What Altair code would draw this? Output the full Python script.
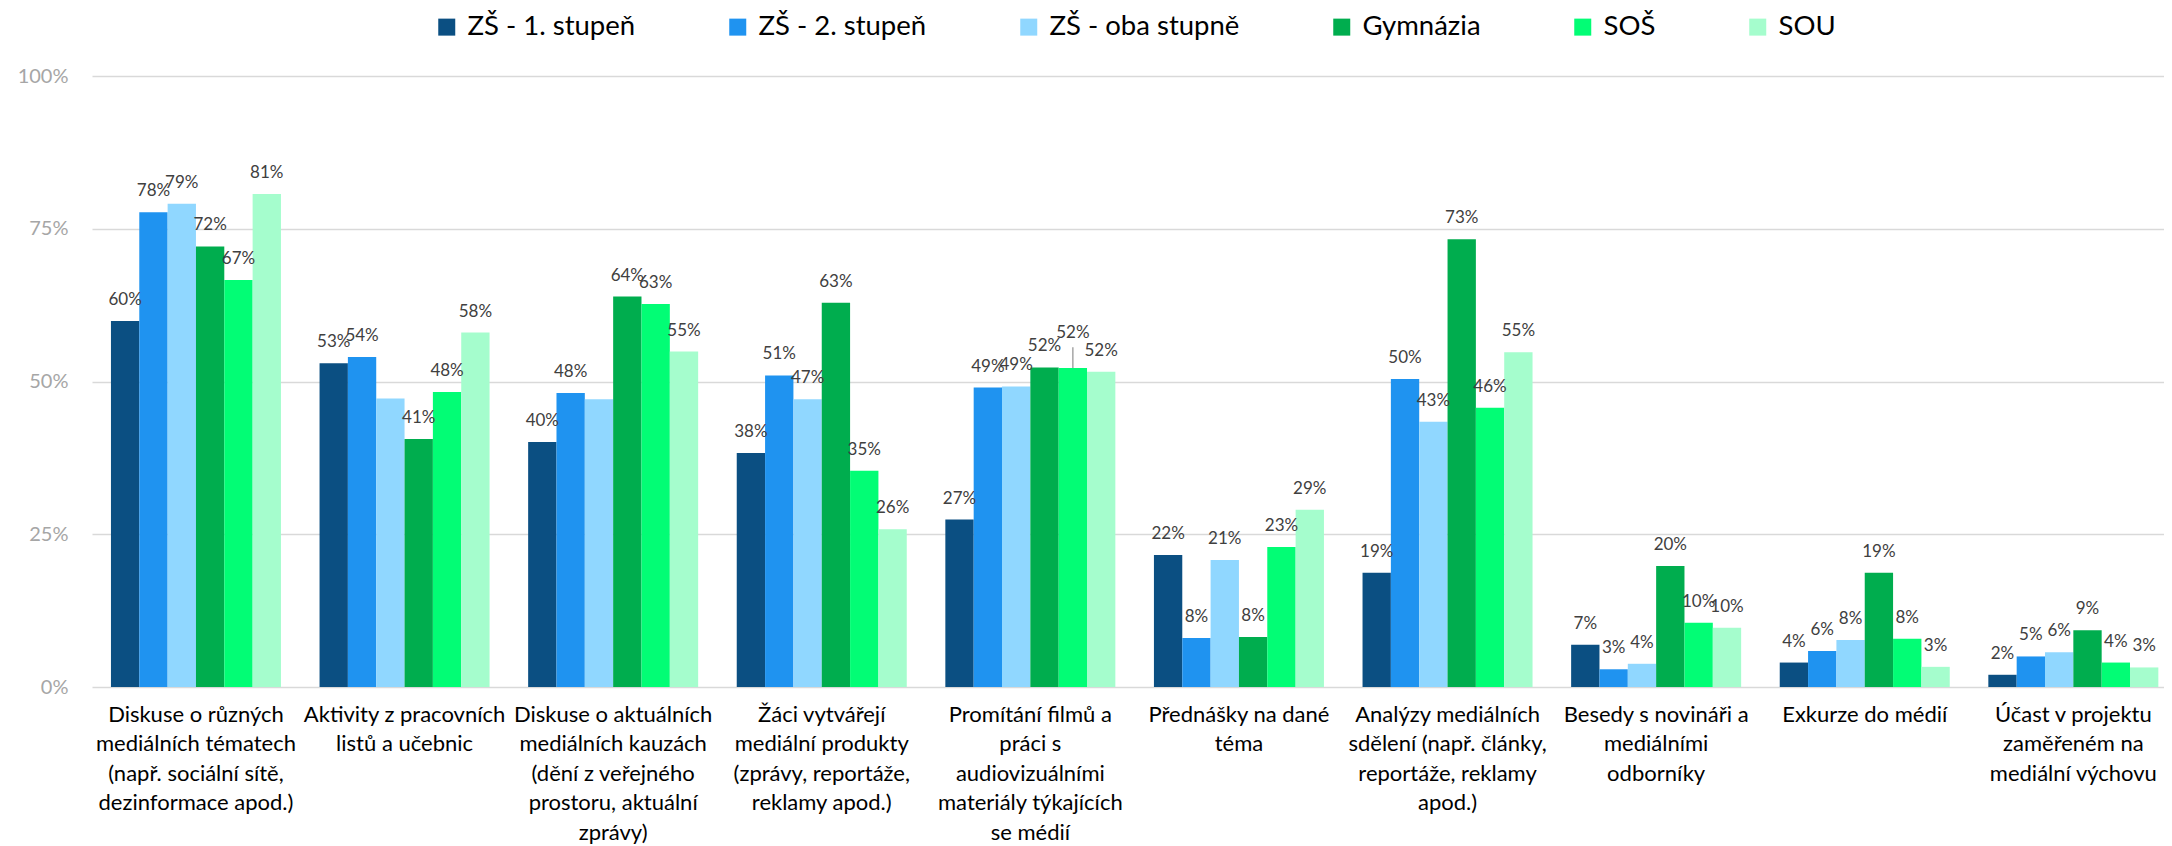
import altair as alt
import pandas as pd

categories = [
    "Diskuse o různých\nmediálních tématech\n(např. sociální sítě,\ndezinformace apod.)",
    "Aktivity z pracovních\nlistů a učebnic",
    "Diskuse o aktuálních\nmediálních kauzách\n(dění z veřejného\nprostoru, aktuální\nzprávy)",
    "Žáci vytvářejí\nmediální produkty\n(zprávy, reportáže,\nreklamy apod.)",
    "Promítání filmů a\npráci s\naudiovizuálními\nmateriály týkajících\nse médií",
    "Přednášky na dané\ntéma",
    "Analýzy mediálních\nsdělení (např. články,\nreportáže, reklamy\napod.)",
    "Besedy s novináři a\nmediálními\nodborníky",
    "Exkurze do médií",
    "Účast v projektu\nzaměřeném na\nmediální výchovu",
]
series = ["ZŠ - 1. stupeň", "ZŠ - 2. stupeň", "ZŠ - oba stupně", "Gymnázia", "SOŠ", "SOU"]
colors = ["#0B4F82", "#1F93F0", "#90D7FF", "#00AD4E", "#02FD75", "#A5FDCD"]

zs1 = [59.9, 53.0, 40.1, 38.3, 27.4, 21.6, 18.7, 6.9, 4.0, 2.0]
zs2 = [77.7, 54.0, 48.1, 51.0, 49.0, 8.0, 50.4, 2.9, 5.9, 5.0]
oba = [79.1, 47.2, 47.1, 47.1, 49.2, 20.8, 43.4, 3.8, 7.7, 5.7]
gym = [72.1, 40.6, 63.9, 62.9, 52.3, 8.2, 73.3, 19.8, 18.7, 9.3]
sos = [66.6, 48.3, 62.7, 35.4, 52.2, 22.9, 45.7, 10.5, 7.9, 4.0]
sou = [80.7, 58.0, 54.9, 25.8, 51.6, 29.0, 54.8, 9.7, 3.3, 3.2]
values = [zs1, zs2, oba, gym, sos, sou]

# data labels not shown in the original chart
hidden_labels = [(categories[1], "ZŠ - oba stupně"), (categories[2], "ZŠ - oba stupně")]
# label moved up with a leader line
lifted_labels = [(categories[4], "SOŠ")]

rows = []
for s, vals in zip(series, values):
    for c, v in zip(categories, vals):
        rows.append({
            "cat": c, "series": s, "value": v,
            "label": f"{round(v):d}%",
            "show": (c, s) not in hidden_labels,
            "lift": (c, s) in lifted_labels,
        })
df = pd.DataFrame(rows)

FONT = "Lato"

x = alt.X("cat:N", sort=categories,
          scale=alt.Scale(paddingInner=0.185, paddingOuter=0.059, align=0.77),
          axis=alt.Axis(title=None, labelExpr="split(datum.label, '\\n')",
                        labelFont=FONT, labelFontSize=22, labelLineHeight=29.5,
                        labelColor="#000000", labelPadding=17, labelLimit=300,
                        ticks=False, domain=False, labelAngle=0, grid=False,
                        labelBaseline="top"))
xo = alt.XOffset("series:N", sort=series, scale=alt.Scale(paddingInner=0, paddingOuter=0))
y = alt.Y("value:Q", scale=alt.Scale(domain=[0, 100]),
          axis=alt.Axis(values=[0, 25, 50, 75, 100], labelExpr="datum.value + '%'",
                        title=None, domain=False, ticks=False,
                        gridColor="#d9d9d9", gridWidth=1.5,
                        labelColor="#a6a6a6", labelFont=FONT, labelFontSize=20,
                        labelPadding=24))
color = alt.Color("series:N", sort=series,
                  scale=alt.Scale(domain=series, range=colors),
                  legend=alt.Legend(title=None, orient="none", legendX=341, legendY=-63,
                                    direction="horizontal", symbolType="square",
                                    symbolSize=289, symbolStrokeWidth=0, symbolOpacity=1,
                                    labelFont=FONT, labelFontSize=27.5, labelColor="#000000",
                                    columnPadding=88, labelOffset=7, labelLimit=400))

base = alt.Chart(df)

bars = base.mark_bar().encode(x=x, xOffset=xo, y=y, color=color)

labels = base.transform_filter("datum.show && !datum.lift").mark_text(
    dy=-21, fontSize=17, font=FONT, color="#404040", baseline="middle"
).encode(x=x, xOffset=xo, y=y, text="label:N")

lifted = base.transform_filter("datum.lift").mark_text(
    dy=-35, fontSize=17, font=FONT, color="#404040", baseline="middle"
).encode(x=x, xOffset=xo, y=y, text="label:N")

leader = base.transform_filter("datum.lift").transform_calculate(
    top="datum.value + 3.4"
).mark_rule(color="#a6a6a6", strokeWidth=1.5).encode(
    x=x, xOffset=xo, y=y, y2="top:Q")

chart = alt.layer(bars, labels, lifted, leader).properties(
    width=2072, height=611,
    autosize=alt.AutoSizeParams(type="none"),
    padding={"left": 84, "top": 68, "right": 0, "bottom": 158},
).configure(font=FONT).configure_view(stroke=None)

chart.save("out.html", embed_options={"renderer": "svg", "actions": False})
